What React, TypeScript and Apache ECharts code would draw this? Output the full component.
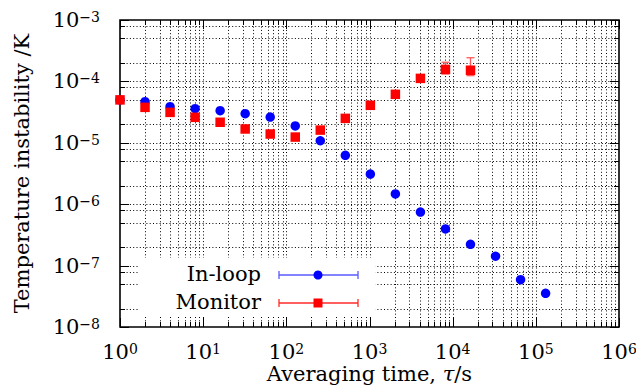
import React, { useEffect, useRef } from "react";
import * as echarts from "echarts";

// Averaging times (s)
const tau = [1, 2, 4, 8, 16, 32, 64, 128, 256, 512, 1024, 2048, 4096, 8192, 16384, 32768, 65536, 131072];
// In-loop Allan deviation (K)
const inLoop = [5.0e-5, 4.68e-5, 3.87e-5, 3.6e-5, 3.33e-5, 2.98e-5, 2.63e-5, 1.88e-5, 1.08e-5, 6.26e-6, 3.1e-6, 1.47e-6, 7.46e-7, 3.95e-7, 2.22e-7, 1.42e-7, 5.9e-8, 3.54e-8];
// Monitor averaging times and deviation (K)
const monitorTau = [1, 2, 4, 8, 16, 32, 64, 128, 256, 512, 1024, 2048, 4096, 8192, 16384];
const monitor = [5.0e-5, 3.78e-5, 3.13e-5, 2.6e-5, 2.16e-5, 1.68e-5, 1.39e-5, 1.24e-5, 1.61e-5, 2.5e-5, 4.08e-5, 6.16e-5, 1.12e-4, 1.57e-4, 1.52e-4];
// Visible monitor error bars
const monitorErrTau = [8192, 16384];
const monitorErrLow = [1.32e-4, 1.24e-4];
const monitorErrHigh = [2.05e-4, 2.43e-4];

// Tick / grid positions
const xMajorTicks = [1, 10, 100, 1000, 10000, 100000, 1000000];
const xMinorTicks = [
  2, 3, 4, 5, 6, 7, 8, 9,
  20, 30, 40, 50, 60, 70, 80, 90,
  200, 300, 400, 500, 600, 700, 800, 900,
  2000, 3000, 4000, 5000, 6000, 7000, 8000, 9000,
  20000, 30000, 40000, 50000, 60000, 70000, 80000, 90000,
  200000, 300000, 400000, 500000, 600000, 700000, 800000, 900000,
];
const yMajorTicks = [1e-8, 1e-7, 1e-6, 1e-5, 1e-4, 1e-3];
const yMinorTicks = [2e-8, 5e-8, 8e-8, 2e-7, 5e-7, 8e-7, 2e-6, 5e-6, 8e-6, 2e-5, 5e-5, 8e-5, 2e-4, 5e-4, 8e-4];

const FONT = "DejaVu Serif";
const FS = 21;
const FS_SUP = 14;

function powLabel(v: number) {
  const e = Math.round(Math.log10(v));
  const s = e < 0 ? "\u2212" + Math.abs(e) : String(e);
  return "{b|10}{s|" + s + "}";
}

const richLabel = {
  b: { fontFamily: FONT, fontSize: FS, lineHeight: 20, color: "#000" },
  s: { fontFamily: FONT, fontSize: FS_SUP, lineHeight: 10, verticalAlign: "top", color: "#000" },
};

export default function App() {
  const ref = useRef<HTMLDivElement>(null);

  useEffect(() => {
    if (!ref.current) return;
    const chart = echarts.init(ref.current, undefined, { renderer: "svg" });

    const xGridData = [
      ...xMajorTicks.map((v) => [v, 1e-5, 1]),
      ...xMinorTicks.map((v) => [v, 1e-5, 0]),
    ];
    const yGridData = [
      ...yMajorTicks.map((v) => [10, v, 1]),
      ...yMinorTicks.map((v) => [10, v, 0]),
    ];
    const dotted = { stroke: "#000", lineWidth: 1, lineDash: [1, 2.3] };
    const solid = { stroke: "#000", lineWidth: 1 };

    const xGridRender = (params: any, api: any) => {
      const cs = params.coordSys;
      const x = Math.round(api.coord([api.value(0), 1e-5])[0]) + 0.5;
      const children: any[] = [];
      if (Math.abs(x - cs.x) > 2 && Math.abs(x - (cs.x + cs.width)) > 2) {
        children.push({ type: "line", shape: { x1: x, y1: cs.y, x2: x, y2: cs.y + cs.height }, style: dotted });
      }
      return { type: "group", children };
    };
    const yGridRender = (params: any, api: any) => {
      const cs = params.coordSys;
      const y = Math.round(api.coord([10, api.value(1)])[1]) + 0.5;
      const children: any[] = [];
      if (Math.abs(y - cs.y) > 2 && Math.abs(y - (cs.y + cs.height)) > 2) {
        children.push({ type: "line", shape: { x1: cs.x, y1: y, x2: cs.x + cs.width, y2: y }, style: dotted });
      }
      return { type: "group", children };
    };
    const xTickRender = (params: any, api: any) => {
      const cs = params.coordSys;
      const x = Math.round(api.coord([api.value(0), 1e-5])[0]) + 0.5;
      const len = api.value(2) === 1 ? 9 : 5;
      const b = cs.y + cs.height;
      return {
        type: "group",
        children: [
          { type: "line", shape: { x1: x, y1: b, x2: x, y2: b - len }, style: solid },
          { type: "line", shape: { x1: x, y1: cs.y, x2: x, y2: cs.y + len }, style: solid },
        ],
      };
    };
    const yTickRender = (params: any, api: any) => {
      const cs = params.coordSys;
      const y = Math.round(api.coord([10, api.value(1)])[1]) + 0.5;
      const len = api.value(2) === 1 ? 9 : 5;
      const r = cs.x + cs.width;
      return {
        type: "group",
        children: [
          { type: "line", shape: { x1: cs.x, y1: y, x2: cs.x + len, y2: y }, style: solid },
          { type: "line", shape: { x1: r, y1: y, x2: r - len, y2: y }, style: solid },
        ],
      };
    };
    const errRender = (params: any, api: any) => {
      const x = api.value(0);
      const p1 = api.coord([x, api.value(2)]);
      const p2 = api.coord([x, api.value(1)]);
      const st = { stroke: "#ff5a5a", lineWidth: 1.3 };
      const w = 4;
      return {
        type: "group",
        children: [
          { type: "line", shape: { x1: p1[0], y1: p1[1], x2: p2[0], y2: p2[1] }, style: st },
          { type: "line", shape: { x1: p1[0] - w, y1: p1[1], x2: p1[0] + w, y2: p1[1] }, style: st },
          { type: "line", shape: { x1: p2[0] - w, y1: p2[1], x2: p2[0] + w, y2: p2[1] }, style: st },
        ],
      };
    };

    const legendTextStyle = (text: string, y: number) => ({
      type: "text",
      x: 261,
      y,
      z: 3,
      style: {
        text,
        fontFamily: FONT,
        fontSize: FS,
        fill: "#000",
        align: "right",
        textAlign: "right",
        verticalAlign: "middle",
        textVerticalAlign: "middle",
      },
    });
    const errIcon = (y: number, color: string) => [
      { type: "line", z: 3, shape: { x1: 279, y1: y, x2: 358, y2: y }, style: { stroke: color, lineWidth: 1.3 } },
      { type: "line", z: 3, shape: { x1: 279, y1: y - 4, x2: 279, y2: y + 4 }, style: { stroke: color, lineWidth: 1.3 } },
      { type: "line", z: 3, shape: { x1: 358, y1: y - 4, x2: 358, y2: y + 4 }, style: { stroke: color, lineWidth: 1.3 } },
    ];

    chart.setOption({
      animation: false,
      backgroundColor: "#fff",
      grid: {
        left: 120,
        top: 20,
        width: 499,
        height: 307,
        show: true,
        borderColor: "#000",
        borderWidth: 1.6,
        backgroundColor: "transparent",
        containLabel: false,
        outerBoundsMode: "none",
      },
      xAxis: {
        type: "log",
        logBase: 10,
        min: 1,
        max: 1e6,
        splitNumber: 6,
        axisLine: { show: false },
        axisTick: { show: false },
        splitLine: { show: false },
        axisLabel: { formatter: powLabel, rich: richLabel, margin: 15, showMaxLabel: true, showMinLabel: true },
        name: "Averaging time, {i|\u03c4}/s",
        nameLocation: "middle",
        nameGap: 40,
        nameMoveOverlap: false,
        nameTextStyle: {
          fontFamily: FONT,
          fontSize: FS,
          lineHeight: 14,
          color: "#000",
          rich: { i: { fontFamily: FONT, fontSize: FS, lineHeight: 14, fontStyle: "italic", color: "#000" } },
        },
      },
      yAxis: {
        type: "log",
        logBase: 10,
        min: 1e-8,
        max: 1e-3,
        splitNumber: 5,
        axisLine: { show: false },
        axisTick: { show: false },
        splitLine: { show: false },
        axisLabel: { formatter: powLabel, rich: richLabel, margin: 20, showMaxLabel: true, showMinLabel: true },
        name: "Temperature instability /K",
        nameLocation: "middle",
        nameGap: 88,
        nameTextStyle: { fontFamily: FONT, fontSize: FS, color: "#000" },
      },
      graphic: [
        { type: "rect", z: 3, shape: { x: 138, y: 258, width: 237, height: 58 }, style: { fill: "#fff" } },
        legendTextStyle("In-loop", 274),
        legendTextStyle("Monitor", 302),
        ...errIcon(275, "#5a5aff"),
        { type: "circle", z: 3, shape: { cx: 318, cy: 275, r: 4.5 }, style: { fill: "#0000ff" } },
        ...errIcon(303, "#ff2a2a"),
        { type: "rect", z: 3, shape: { x: 313.5, y: 298.5, width: 9, height: 9 }, style: { fill: "#ff0000" } },
      ],
      series: [
        { type: "custom", z: 1, silent: true, data: xGridData, encode: { x: 0, y: 1 }, renderItem: xGridRender },
        { type: "custom", z: 1, silent: true, data: yGridData, encode: { x: 0, y: 1 }, renderItem: yGridRender },
        { type: "custom", z: 4, silent: true, data: xGridData, encode: { x: 0, y: 1 }, renderItem: xTickRender },
        { type: "custom", z: 4, silent: true, data: yGridData, encode: { x: 0, y: 1 }, renderItem: yTickRender },
        {
          type: "custom",
          z: 5,
          data: monitorErrTau.map((t, i) => [t, monitorErrLow[i], monitorErrHigh[i]]),
          encode: { x: 0, y: [1, 2] },
          renderItem: errRender,
        },
        {
          name: "In-loop",
          type: "scatter",
          z: 6,
          symbol: "circle",
          symbolSize: 9.5,
          itemStyle: { color: "#0000ff", opacity: 1 },
          data: tau.map((t, i) => [t, inLoop[i]]),
        },
        {
          name: "Monitor",
          type: "scatter",
          z: 7,
          symbol: "rect",
          symbolSize: 9.5,
          itemStyle: { color: "#ff0000", opacity: 1 },
          data: monitorTau.map((t, i) => [t, monitor[i]]),
        },
      ],
    });

    return () => chart.dispose();
  }, []);

  return (
    <div
      ref={ref}
      style={{ position: "absolute", left: 0, top: 0, width: 636, height: 392, background: "#fff" }}
    />
  );
}
